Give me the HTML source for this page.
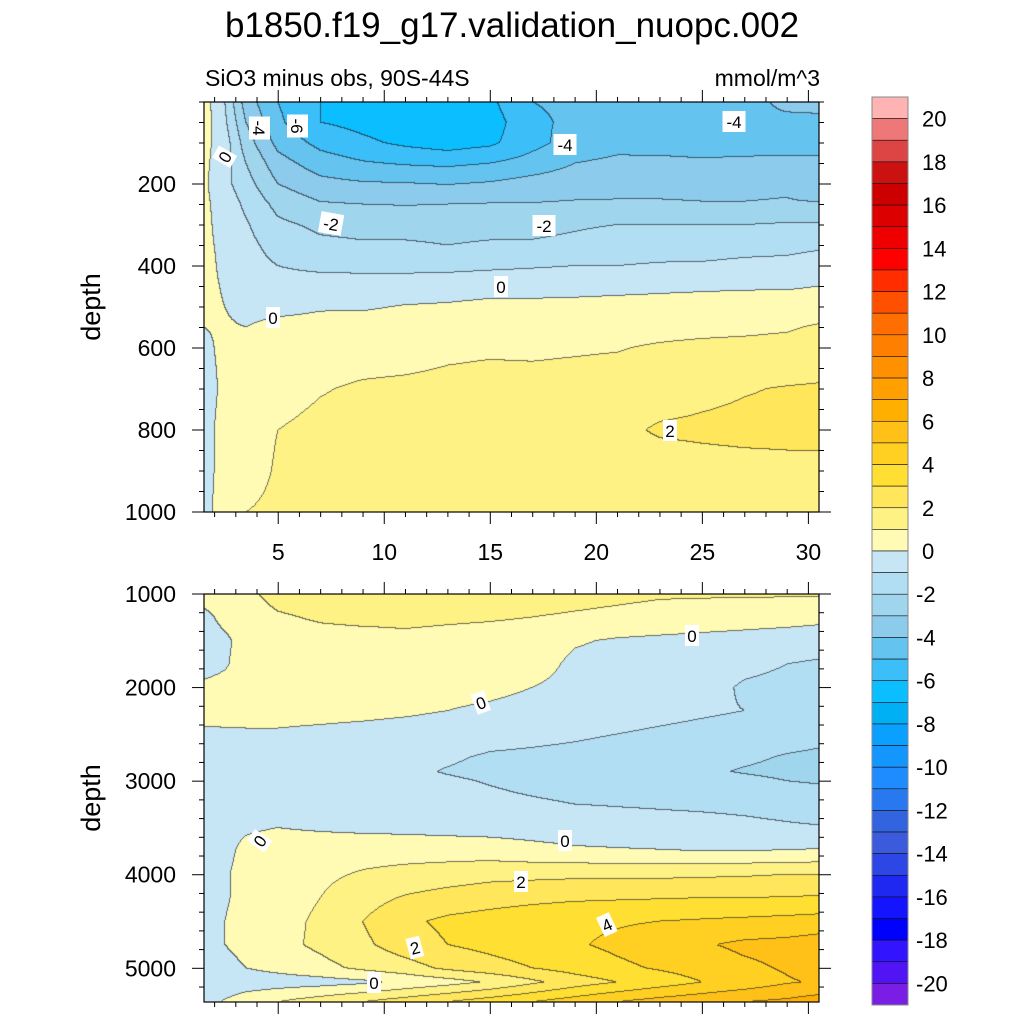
<!DOCTYPE html>
<html><head><meta charset="utf-8">
<style>
html,body{margin:0;padding:0;background:#fff;}
#wrap{position:relative;width:1024px;height:1024px;overflow:hidden;font-family:"Liberation Sans",sans-serif;}
canvas{position:absolute;left:0;top:0;}
svg{position:absolute;left:0;top:0;}
</style></head>
<body>
<div id="wrap">
<canvas id="cv" width="1024" height="1024"></canvas>
<svg id="sv" width="1024" height="1024"></svg>
</div>
<script>
// ---- data ----
const xCols = [1.5,2.5,3.5,5,7,9,11,13,15,17,19,21,23,25,27,29,30.5];
const topDepths = [0,50,100,150,200,250,300,350,400,450,500,550,600,700,800,900,1000];
const topValues = [
[0.5,-1,-3.5,-5,-6,-6.5,-6.5,-6.5,-6.2,-5,-4.8,-4.5,-4.3,-4.2,-4.3,-3.8,-3.6],
[0.5,-0.8,-3,-4.8,-6,-6.3,-6.6,-6.8,-6.5,-5.2,-4.8,-4.6,-4.5,-4.4,-4.1,-4.2,-4.3],
[0.3,-0.5,-2.5,-4.3,-5.3,-5.8,-6.2,-6.5,-6.2,-5.3,-4.6,-4.3,-4.5,-4.6,-4.6,-4.5,-4.5],
[0.2,-0.5,-2,-3.6,-4.5,-4.9,-5.1,-5.2,-5.0,-4.6,-4.0,-3.8,-3.7,-3.8,-3.7,-3.7,-3.7],
[0.2,-0.7,-1.6,-3.0,-3.7,-3.9,-3.95,-4.05,-3.9,-3.6,-3.4,-3.3,-3.3,-3.3,-3.3,-3.2,-3.8],
[0.2,-0.4,-1.2,-2.3,-2.9,-3.0,-3.05,-3.0,-2.95,-2.95,-2.9,-2.9,-2.9,-2.95,-2.95,-2.9,-2.9],
[0.2,-0.3,-0.9,-1.8,-2.2,-2.3,-2.3,-2.3,-2.3,-2.25,-2.1,-2.0,-2.0,-2.0,-2.0,-1.9,-1.9],
[0.2,-0.2,-0.7,-1.4,-1.8,-1.9,-1.9,-2.0,-1.9,-1.9,-1.8,-1.6,-1.5,-1.4,-1.3,-1.2,-1.1],
[0.3,-0.2,-0.6,-1.0,-1.2,-1.3,-1.3,-1.3,-1.2,-1.1,-1.0,-1.0,-0.9,-0.9,-0.8,-0.8,-0.7],
[0.3,-0.1,-0.5,-0.7,-0.6,-0.5,-0.5,-0.4,-0.3,-0.3,-0.3,-0.25,-0.2,-0.15,-0.1,-0.1,0.0],
[0.3,0,-0.3,-0.3,-0.1,-0.1,0.05,0.1,0.2,0.2,0.25,0.3,0.35,0.4,0.4,0.45,0.5],
[0.0,0.1,0.0,0.3,0.35,0.4,0.45,0.55,0.5,0.55,0.6,0.65,0.7,0.75,0.8,0.9,1.1],
[-0.2,0.2,0.3,0.5,0.6,0.65,0.7,0.85,0.9,0.85,0.9,0.95,1.1,1.2,1.25,1.3,1.4],
[-0.4,0.2,0.5,0.7,0.95,1.1,1.15,1.2,1.25,1.3,1.35,1.4,1.6,1.8,1.95,2.05,2.1],
[-0.3,0.3,0.6,1.0,1.2,1.3,1.35,1.4,1.45,1.5,1.55,1.8,2.1,2.15,2.2,2.2,2.2],
[-0.3,0.3,0.6,1.1,1.2,1.3,1.3,1.35,1.4,1.4,1.4,1.5,1.6,1.7,1.75,1.8,1.8],
[-0.2,0.3,1.0,1.2,1.3,1.3,1.35,1.35,1.4,1.4,1.4,1.45,1.5,1.55,1.6,1.6,1.6]
];
const botDepths = [1000,1250,1500,1750,2000,2250,2500,2750,2900,3000,3250,3500,3750,4000,4250,4500,4750,5000,5150,5360];
const botValues = [
[0.5,0.4,0.8,1.3,1.5,1.6,1.6,1.6,1.5,1.4,1.3,1.2,1.1,1.1,1.1,1.1,1.1],
[-0.3,0.3,0.6,0.9,1.1,1.2,1.2,1.15,1.1,1.0,0.9,0.8,0.7,0.6,0.5,0.4,0.3],
[-0.5,-0.2,0.4,0.6,0.7,0.7,0.8,0.7,0.6,0.5,0.1,-0.1,-0.2,-0.3,-0.4,-0.5,-0.6],
[-0.4,-0.1,0.4,0.5,0.6,0.6,0.6,0.6,0.5,0.4,-0.2,-0.4,-0.5,-0.6,-0.8,-1.0,-1.1],
[0.2,0.3,0.4,0.5,0.5,0.5,0.5,0.4,0.3,0.0,-0.3,-0.5,-0.6,-0.7,-1.1,-1.2,-1.2],
[0.2,0.25,0.3,0.3,0.3,0.25,0.15,0.0,-0.2,-0.4,-0.6,-0.7,-0.8,-0.9,-1.0,-1.2,-1.3],
[-0.1,-0.1,-0.1,-0.1,-0.2,-0.3,-0.4,-0.5,-0.7,-0.8,-0.9,-1.0,-1.1,-1.2,-1.3,-1.5,-1.7],
[-0.3,-0.3,-0.4,-0.5,-0.6,-0.7,-0.8,-0.9,-1.1,-1.15,-1.2,-1.3,-1.4,-1.6,-1.8,-2.1,-2.2],
[-0.3,-0.3,-0.4,-0.5,-0.6,-0.7,-0.85,-1.05,-1.2,-1.3,-1.35,-1.4,-1.5,-1.8,-2.1,-2.3,-2.4],
[-0.3,-0.3,-0.4,-0.5,-0.6,-0.7,-0.8,-0.9,-1.05,-1.2,-1.3,-1.35,-1.4,-1.5,-1.7,-2.0,-2.1],
[-0.3,-0.3,-0.35,-0.4,-0.5,-0.6,-0.7,-0.75,-0.8,-0.9,-1.0,-1.05,-1.1,-1.15,-1.2,-1.3,-1.4],
[-0.3,-0.2,-0.1,0.0,-0.1,-0.2,-0.25,-0.3,-0.35,-0.4,-0.5,-0.6,-0.65,-0.7,-0.8,-0.9,-0.95],
[-0.4,-0.2,0.2,0.4,0.5,0.6,0.6,0.55,0.5,0.3,0.15,0.1,0.05,0.0,0.0,0.05,0.1],
[-0.5,-0.1,0.3,0.5,0.8,1.1,1.3,1.5,1.7,1.75,1.8,1.8,1.8,1.85,1.9,2.0,2.0],
[-0.5,-0.1,0.3,0.5,1.0,1.6,2.1,2.4,2.6,2.75,2.85,2.9,2.95,3.0,3.0,3.05,3.1],
[-0.4,0.0,0.4,0.6,1.2,2.0,2.8,3.2,3.4,3.6,3.8,3.9,4.0,4.1,4.2,4.3,4.4],
[-0.4,0.0,0.4,0.7,1.2,1.8,2.5,3.0,3.3,3.6,3.9,4.2,4.5,4.9,5.2,5.3,5.5],
[-0.6,-0.4,0.0,0.3,0.7,1.2,1.6,2.2,2.6,3.0,3.4,3.8,4.1,4.4,4.8,5.1,5.5],
[-0.7,-0.7,-0.6,-0.5,-0.4,-0.2,0.2,0.6,1.1,1.8,2.5,3.0,3.5,4.0,4.4,4.9,5.1],
[-0.4,0.1,0.6,1.0,1.5,2.0,2.5,3.0,3.5,4.0,4.5,5.0,5.4,5.7,6.0,6.2,6.5]
];
const xTickLabels = [5,10,15,20,25,30];
const topYTicks = [200,400,600,800,1000];
const botYTicks = [1000,2000,3000,4000,5000];
const cbLabels = [20,18,16,14,12,10,8,6,4,2,0,-2,-4,-6,-8,-10,-12,-14,-16,-18,-20];
// colours from level 20 (top) down to -21 (bottom)
const cbColors = ["#FFB3B3","#EE7777","#DD4444","#CC1111","#CC0000","#DD0000","#EE0000","#FF0000","#FF2D00","#FF5000","#FF6E00","#FF8000","#FF9000","#FFA000","#FFAF00","#FFC018","#FFD022","#FFE032","#FFE65A","#FFF284","#FFFBB4",
"#C6E6F5","#B2DEF3","#A0D5EE","#8CCBEC","#64C3EF","#3CBEF8","#0ABEFF","#00B0F5","#0AA0FF","#1496FF","#1E8CFF","#2878F0","#3264E0","#3C5ADC","#2D46E6","#1E28F0","#1414FF","#0000FF","#3214FF","#5014F5","#7A1EE6"];

// ---- geometry ----
const PX0=204, PX1=819, XMIN=1.5, XMAX=30.5;
const topP={y0:102,y1:512,dmin:0,dmax:1000};
const botP={y0:594,y1:1002,dmin:1000,dmax:5360};
function xs(v){return PX0+(v-XMIN)/(XMAX-XMIN)*(PX1-PX0);}
function ys(p,d){return p.y0+(d-p.dmin)/(p.dmax-p.dmin)*(p.y1-p.y0);}
function locate(arr,v){let i=0;while(i<arr.length-2&&v>arr[i+1])i++;let t=(v-arr[i])/(arr[i+1]-arr[i]);return [i,Math.max(0,Math.min(1,t))];}
function sample(depths,vals,x,d){const [i,ti]=locate(xCols,x);const [j,tj]=locate(depths,d);
 const a=vals[j][i],b=vals[j][i+1],c=vals[j+1][i],e=vals[j+1][i+1];
 return (a*(1-ti)+b*ti)*(1-tj)+(c*(1-ti)+e*ti)*tj;}
function hex(c){return [parseInt(c.slice(1,3),16),parseInt(c.slice(3,5),16),parseInt(c.slice(5,7),16)];}
const rgb=cbColors.map(hex);

const ctx=document.getElementById('cv').getContext('2d');
function drawPanel(p,depths,vals){
 const W=PX1-PX0,H=p.y1-p.y0;
 const lev=new Int16Array(W*H);
 for(let py=0;py<H;py++)for(let px=0;px<W;px++){
  const x=XMIN+(px+0.5)/W*(XMAX-XMIN), d=p.dmin+(py+0.5)/H*(p.dmax-p.dmin);
  let k=Math.floor(sample(depths,vals,x,d));k=Math.max(-21,Math.min(20,k));lev[py*W+px]=k;}
 const img=ctx.createImageData(W,H);
 for(let py=0;py<H;py++)for(let px=0;px<W;px++){
  const k=lev[py*W+px];let c=rgb[20-k];
  const edge=(px<W-1&&lev[py*W+px+1]!==k)||(py<H-1&&lev[(py+1)*W+px]!==k);
  const o=(py*W+px)*4;
  if(edge){img.data[o]=c[0]*0.35+20;img.data[o+1]=c[1]*0.35+20;img.data[o+2]=c[2]*0.35+25;}
  else{img.data[o]=c[0];img.data[o+1]=c[1];img.data[o+2]=c[2];}
  img.data[o+3]=255;}
 ctx.putImageData(img,PX0,p.y0);
}
drawPanel(topP,topDepths,topValues);
drawPanel(botP,botDepths,botValues);

// ---- overlay ----
const NS="http://www.w3.org/2000/svg";
const sv=document.getElementById('sv');
function el(tag,attrs,parent){const e=document.createElementNS(NS,tag);for(const k in attrs)e.setAttribute(k,attrs[k]);(parent||sv).appendChild(e);return e;}
function txt(s,x,y,size,anchor,name,rot){const t=el('text',{x:x,y:y,'font-size':size,'text-anchor':anchor||'middle','font-family':'Liberation Sans, sans-serif',fill:'#000'});
 if(rot)t.setAttribute('transform','rotate('+rot+' '+x+' '+y+')');
 
 
 t.textContent=s;return t;}

txt('b1850.f19_g17.validation_nuopc.002',512,37,35,'middle','chart-title');
txt('SiO3 minus obs, 90S-44S',205,86,23,'start','subtitle-left');
txt('mmol/m^3',820,86,23,'end','units-label');

function panelFrame(p,yTicks,minorStep,name){
 const g=el('g',{});
 
 
 el('rect',{x:PX0,y:p.y0,width:PX1-PX0,height:p.y1-p.y0,fill:'none',stroke:'#000','stroke-width':1.2},g);
 for(let v=2;v<=30;v++){
  const x=xs(v),maj=v%5===0,L=maj?12:5;
  el('line',{x1:x,y1:p.y0,x2:x,y2:p.y0-L,stroke:'#000','stroke-width':1},g);
  el('line',{x1:x,y1:p.y1,x2:x,y2:p.y1+L,stroke:'#000','stroke-width':1},g);
 }
 for(let d=Math.ceil(p.dmin/minorStep)*minorStep;d<=p.dmax;d+=minorStep){
  const y=ys(p,d),maj=yTicks.indexOf(d)>=0,L=maj?12:5;
  el('line',{x1:PX0,y1:y,x2:PX0-L,y2:y,stroke:'#000','stroke-width':1},g);
  el('line',{x1:PX1,y1:y,x2:PX1+L,y2:y,stroke:'#000','stroke-width':1},g);
 }
 yTicks.forEach(d=>{txt(String(d),176,ys(p,d)+8,23,'end','y-tick-label');});
 txt('depth',100,(p.y0+p.y1)/2,27,'middle','y-axis-title',-90);
}
panelFrame(topP,topYTicks,50,'top-panel-frame');
panelFrame(botP,botYTicks,200,'bottom-panel-frame');
xTickLabels.forEach(v=>{txt(String(v),xs(v),560,23,'middle','x-tick-label');});

function clabel(s,x,y,rot,name){
 const g=el('g',{transform:'rotate('+(rot||0)+' '+x+' '+y+')'});
 
 
 const w=s.length*9+5;
 el('rect',{x:x-w/2,y:y-11,width:w,height:21,fill:'#fff'},g);
 const t=el('text',{x:x,y:y+6,'font-size':17,'text-anchor':'middle','font-family':'Liberation Sans, sans-serif'},g);
 t.textContent=s;
}
[['-4',259,128,90],['-6',297,126,90],['0',225,157,-60],['-4',565,145,0],['-4',734,122,0],['-2',331,224,10],['-2',544,226,0],['0',501,287,0],['0',273,318,0],['2',670,431,0],
 ['0',692,636,0],['0',481,703,-20],['0',260,841,-55],['0',565,841,0],['2',521,882,0],['4',607,925,-25],['2',415,948,-15],['0',374,983,0]].forEach(a=>clabel(a[0],a[1],a[2],a[3],'contour-label'));

const CBX=872,CBW=36,CBY0=97,CBY1=1005,nb=cbColors.length,bh=(CBY1-CBY0)/nb;
const cb=el('g',{});


cbColors.forEach((c,i)=>{const r=el('rect',{x:CBX,y:CBY0+i*bh,width:CBW,height:bh,fill:c,stroke:'#111','stroke-width':0.6},cb);
 
 });
el('rect',{x:CBX,y:CBY0,width:CBW,height:CBY1-CBY0,fill:'none',stroke:'#888','stroke-width':1},cb);
cbLabels.forEach(v=>{const y=CBY0+(20-v+1)*bh;txt(String(v),v<0?916:922,y+8,22,'start','colorbar-label');});
</script>
</body></html>
